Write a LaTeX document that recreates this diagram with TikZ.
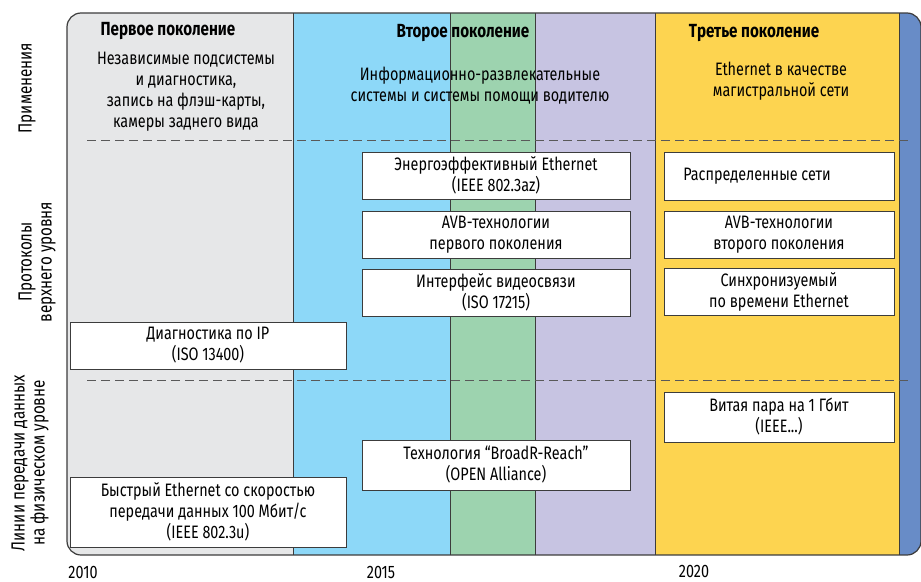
\documentclass[tikz,border=0pt]{standalone}
\usepackage{fontspec}
\setmainfont{Fira Sans}[FakeStretch=0.8]
\usepackage{tikz}
\usetikzlibrary{positioning}
\definecolor{genone}{RGB}{230,231,232}
\definecolor{gentwoblue}{RGB}{141,216,248}
\definecolor{gentwogreen}{RGB}{157,211,175}
\definecolor{gentwolilac}{RGB}{199,196,226}
\definecolor{genthree}{RGB}{253,212,80}
\definecolor{genfour}{RGB}{104,140,199}
\definecolor{framegray}{RGB}{60,60,60}

\begin{document}
\begin{tikzpicture}[x=1pt, y=-1pt, font=\fontsize{18}{21}\selectfont,
	infobox/.style={draw=framegray, line width=1pt, fill=white, align=center, inner sep=0pt},
	heading/.style={font=\fontsize{19}{21}\selectfont\bfseries},
	rowlabel/.style={rotate=90, align=center, font=\fontsize{19}{20}\selectfont},
	sepline/.style={framegray!85, line width=1pt, dash pattern=on 9pt off 5pt}]

	\useasboundingbox (0,0) rectangle (921,581);

	% generation columns inside the rounded frame
	\begin{scope}
		\clip[rounded corners=14pt] (67,13) rectangle (921,555);
		\fill[genone] (67,13) rectangle (293,555);
		\fill[gentwoblue] (293,13) rectangle (450,555);
		\fill[gentwogreen] (450,13) rectangle (535,555);
		\fill[gentwolilac] (535,13) rectangle (655,555);
		\fill[genthree] (655,13) rectangle (899,555);
		\fill[genfour] (899,13) rectangle (921,555);

		\draw[framegray, line width=1pt] (293,13) -- (293,555) (450,13) -- (450,555)
			(535,13) -- (535,555) (655,13) -- (655,555) (899,13) -- (899,555);
	\end{scope}
	\draw[framegray, line width=1.2pt, rounded corners=14pt] (67,13) rectangle (921,555);

	% layer separators
	\draw[sepline] (87,140) -- (910,140);
	\draw[sepline] (87,380) -- (910,380);

	% generation headings and applications
	\node[heading] (firstgen) at (168,31) {Первое поколение};
	\node[heading] (secondgen) at (463,33) {Второе поколение};
	\node[heading] (thirdgen) at (754,33) {Третье поколение};

	\node[align=center] (firstapp) at (186,91.5) {Независимые подсистемы\\и диагностика,\\запись на флэш-карты,\\камеры заднего вида};
	\node[align=center] (secondapp) at (480,85.5) {Информационно-развлекательные\\системы и системы помощи водителю};
	\node[align=center] (thirdapp) at (781,81.5) {Ethernet в качестве\\магистральной сети};

	% higher layer protocols
	\node[infobox, minimum width=268pt, minimum height=47pt] (energy) at (496,175.5) {Энергоэффективный Ethernet\\(IEEE 802.3az)};
	\node[infobox, minimum width=268pt, minimum height=47pt] (avbone) at (496,234.5) {AVB-технологии\\первого поколения};
	\node[infobox, minimum width=268pt, minimum height=47pt] (video) at (496,292.5) {Интерфейс видеосвязи\\(ISO 17215)};
	\node[infobox, minimum width=276pt, minimum height=47pt] (diagip) at (208,345.5) {Диагностика по IP\\(ISO 13400)};

	\node[infobox, minimum width=230pt, minimum height=48pt] (distrib) at (779,176) {Распределенные сети\hspace*{44pt}};
	\node[infobox, minimum width=230pt, minimum height=47pt] (avbtwo) at (779,234.5) {AVB-технологии\\второго поколения};
	\node[infobox, minimum width=230pt, minimum height=47pt] (timesync) at (779,291.5) {Синхронизуемый\\по времени Ethernet};

	% physical layer
	\node[infobox, minimum width=230pt, minimum height=50pt] (gigabit) at (779,417) {Витая пара на 1 Гбит\\(IEEE...)};
	\node[infobox, minimum width=268pt, minimum height=50pt] (broadr) at (496,465) {Технология “BroadR-Reach”\\(OPEN Alliance)};
	\node[infobox, minimum width=276pt, minimum height=70pt] (fasteth) at (208,512) {Быстрый Ethernet со скоростью\\передачи данных 100 Мбит/с\\(IEEE 802.3u)};

	% row labels
	\node[rowlabel] (rowapp) at (27,88) {Применения};
	\node[rowlabel] (rowproto) at (37,262) {Протоколы\\верхнего уровня};
	\node[rowlabel] (rowphys) at (30,463) {Линии передачи данных\\на физическом уровне};

	% years
	\node (y2010) at (83,572) {2010};
	\node (y2015) at (381,572) {2015};
	\node (y2020) at (694,571) {2020};

\end{tikzpicture}
\end{document}
